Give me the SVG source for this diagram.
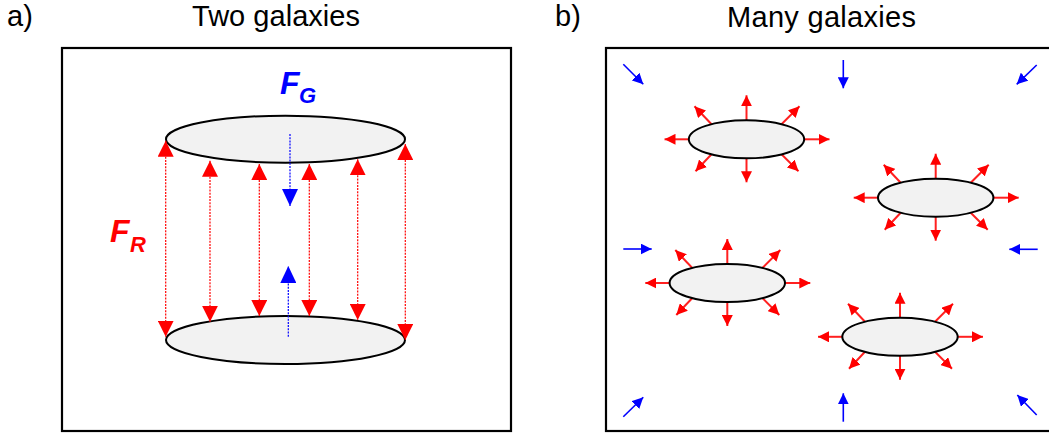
<svg xmlns="http://www.w3.org/2000/svg" xmlns:xlink="http://www.w3.org/1999/xlink" width="1049" height="433" viewBox="0 0 1049 433">
<style>
.title{font-family:"Liberation Sans",Arial,sans-serif;font-size:29px;fill:#000}
.frame{fill:#fff;stroke:#000;stroke-width:2.2}
.gal{fill:#f2f2f2;stroke:#000;stroke-width:2}
.fr{stroke:#ff0000;stroke-width:1.2;stroke-dasharray:2 1.2;fill:none}
.fg{stroke:#0000ff;stroke-width:1.2;stroke-dasharray:2 1.2;fill:none}
.ray{stroke:#ff2020;stroke-width:2;fill:none;marker-end:url(#rh)}
.pull{stroke:#0000ff;stroke-width:1.6;fill:none;marker-end:url(#bh)}
.lab{font-family:"Liberation Sans",Arial,sans-serif;font-weight:bold;font-style:italic}
</style>
<defs>
<marker id="ra" viewBox="0 0 16 16" refX="16" refY="8" markerWidth="16" markerHeight="16" markerUnits="userSpaceOnUse" orient="auto-start-reverse"><path d="M0,0 L16,8 L0,16 z" fill="#ff0000"/></marker>
<marker id="ba" viewBox="0 0 17 16" refX="17" refY="8" markerWidth="17" markerHeight="16" markerUnits="userSpaceOnUse" orient="auto"><path d="M0,0 L17,8 L0,16 z" fill="#0000ff"/></marker>
<marker id="rh" viewBox="0 0 11 11" refX="11" refY="5.5" markerWidth="11" markerHeight="11" markerUnits="userSpaceOnUse" orient="auto"><path d="M0,0 L11,5.5 L0,11 z" fill="#ff0000"/></marker>
<marker id="bh" viewBox="0 0 11 11" refX="11" refY="5.5" markerWidth="11" markerHeight="11" markerUnits="userSpaceOnUse" orient="auto"><path d="M0,0 L11,5.5 L0,11 z" fill="#0000ff"/></marker>
<g id="rays">
<path class="ray" d="M0,-19 L0,-44"/>
<path class="ray" d="M0,19 L0,43"/>
<path class="ray" d="M-57.5,0 L-82,0"/>
<path class="ray" d="M57.5,0 L83,0"/>
<path class="ray" d="M-35,-15 L-52,-33"/>
<path class="ray" d="M35,-15 L53,-33"/>
<path class="ray" d="M-35,15 L-51,32"/>
<path class="ray" d="M35,15 L52,32"/>
</g>
</defs>
<rect width="1049" height="433" fill="#fff"/>
<text class="title" x="7" y="26">a)</text>
<text class="title" x="192" y="26" textLength="168">Two galaxies</text>
<text class="title" x="555" y="26">b)</text>
<text class="title" x="727" y="27" textLength="189">Many galaxies</text>

<rect id="panelA" class="frame" x="62" y="48" width="449" height="383"/>
<rect id="panelB" class="frame" x="606" y="48" width="452" height="383"/>

<g id="galaxyTop"><ellipse class="gal" cx="285.5" cy="139.2" rx="119.5" ry="23.5"/></g>
<g id="galaxyBottom"><ellipse class="gal" cx="285.5" cy="340" rx="119.5" ry="24"/></g>

<g id="connectors">
<path class="fr" d="M165.7,140.7 L165.7,336.7" marker-start="url(#ra)" marker-end="url(#ra)"/>
<path class="fr" d="M210,160.7 L210,321.7" marker-start="url(#ra)" marker-end="url(#ra)"/>
<path class="fr" d="M259.3,164 L259.3,316" marker-start="url(#ra)" marker-end="url(#ra)"/>
<path class="fr" d="M309.3,164 L309.3,316" marker-start="url(#ra)" marker-end="url(#ra)"/>
<path class="fr" d="M357.7,159.3 L357.7,320" marker-start="url(#ra)" marker-end="url(#ra)"/>
<path class="fr" d="M405.3,144 L405.3,340" marker-start="url(#ra)" marker-end="url(#ra)"/>
<path class="fg" d="M290,134 L290,206" marker-end="url(#ba)"/>
<path class="fg" d="M288.3,336.7 L288.3,266" marker-end="url(#ba)"/>

<path class="pull" d="M623.3,64.3 L643.3,84.3"/>
<path class="pull" d="M843.3,60 L843.3,88.3"/>
<path class="pull" d="M1036.7,65 L1016.7,84.3"/>
<path class="pull" d="M623.3,249 L651.7,249"/>
<path class="pull" d="M1037.7,249.3 L1009.3,249.3"/>
<path class="pull" d="M623.3,416.7 L643.3,397.3"/>
<path class="pull" d="M843.3,421.7 L843.3,393.3"/>
<path class="pull" d="M1036.7,415 L1017.3,395"/>
</g>

<g id="labelFG"><text class="lab" fill="#0000ff" x="280" y="93.5" font-size="32">F</text><text class="lab" fill="#0000ff" x="299" y="103" font-size="22">G</text></g>
<g id="labelFR"><text class="lab" fill="#ff0000" x="110" y="242" font-size="32">F</text><text class="lab" fill="#ff0000" x="130" y="252" font-size="22">R</text></g>

<g id="galaxy1" transform="translate(746.5,139.3)"><use href="#rays"/><ellipse class="gal" cx="0" cy="0" rx="57.7" ry="19"/></g>
<g id="galaxy2" transform="translate(935.7,197.7)"><use href="#rays"/><ellipse class="gal" cx="0" cy="0" rx="57.7" ry="19"/></g>
<g id="galaxy3" transform="translate(727.3,283)"><use href="#rays"/><ellipse class="gal" cx="0" cy="0" rx="57.7" ry="19"/></g>
<g id="galaxy4" transform="translate(900,336.8)"><use href="#rays"/><ellipse class="gal" cx="0" cy="0" rx="57.7" ry="19"/></g>
</svg>
